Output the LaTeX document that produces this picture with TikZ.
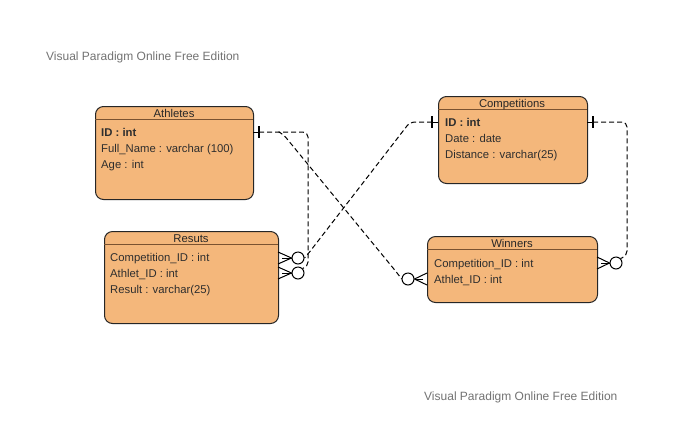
\documentclass[tikz,border=0pt]{standalone}
\usepackage{fontspec}
\setmainfont{Liberation Sans}
\begin{document}
\begin{tikzpicture}[x=1pt,y=-1pt,
  entity/.style={draw=black!85,fill=boxfill,rounded corners=8pt,line width=1pt,anchor=north west,inner sep=0pt},
  hdr/.style={font=\fontsize{11.3}{13}\selectfont,text=black!85,anchor=base,inner sep=0pt},
  row/.style={font=\fontsize{11.3}{13}\selectfont,text=black!82,anchor=base west,inner sep=0pt},
  sep/.style={draw=sepcol,line width=1pt},
  rel/.style={draw=black,line width=1pt,dash pattern=on 5pt off 3pt,rounded corners=5pt},
  bar/.style={draw=black,line width=1.4pt},
  foot/.style={draw=black,line width=1pt},
  zero/.style={circle,draw=black,line width=1pt,fill=white,minimum size=12pt,inner sep=0pt},
  wm/.style={font=\fontsize{12}{14}\selectfont,text=black!55,anchor=base west,inner sep=0pt}]
\definecolor{boxfill}{HTML}{F4B77B}
\definecolor{sepcol}{HTML}{7A5230}
\useasboundingbox (0,0) rectangle (692,424);
\fill[white] (0,0) rectangle (692,424);

\node[wm] (wm1) at (46,60.5) {Visual Paradigm Online Free Edition};
\node[wm] (wm2) at (424,400.5) {Visual Paradigm Online Free Edition};

% Athletes
\node[entity,minimum width=158pt,minimum height=93pt] (ath) at (95,106) {};
\draw[sep] (95,119) -- (253,119);
\node[hdr] (athh) at (174,117.5) {Athletes};
\node[row] (ath1) at (101,136.5) {\bfseries ID : int};
\node[row] (ath2) at (101,152.5) {Full\_Name : varchar (100)};
\node[row] (ath3) at (101,168.5) {Age : int};

% Resuts
\node[entity,minimum width=174pt,minimum height=92pt] (res) at (104,231) {};
\draw[sep] (104,244) -- (278,244);
\node[hdr] (resh) at (191,242.5) {Resuts};
\node[row] (res1) at (110,261.5) {Competition\_ID : int};
\node[row] (res2) at (110,277.5) {Athlet\_ID : int};
\node[row] (res3) at (110,293.5) {Result : varchar(25)};

% Competitions
\node[entity,minimum width=149pt,minimum height=87pt] (com) at (438,96) {};
\draw[sep] (438,109) -- (587,109);
\node[hdr] (comh) at (512,107.5) {Competitions};
\node[row] (com1) at (445,126.5) {\bfseries ID : int};
\node[row] (com2) at (445,142.5) {Date : date};
\node[row] (com3) at (445,158.5) {Distance : varchar(25)};

% Winners
\node[entity,minimum width=170pt,minimum height=66pt] (win) at (427,236) {};
\draw[sep] (427,249) -- (597,249);
\node[hdr] (winh) at (512,247.5) {Winners};
\node[row] (win1) at (434,267.5) {Competition\_ID : int};
\node[row] (win2) at (434,283.5) {Athlet\_ID : int};

% end coordinates
\coordinate (aE) at (253,132);
\coordinate (cW) at (438,122);
\coordinate (cE) at (587,122);

% zero circles
\node[zero] (rc1) at (298,258) {};
\node[zero] (rc2) at (298,273) {};
\node[zero] (wc1) at (408,279) {};
\node[zero] (wc2) at (616,263) {};

% relationships (dashed)
\draw[rel] (259,132) -- (308,132) -- (308,267) -- (rc2.north east);
\draw[rel] (279,132) -- (283,134) -- (398,274) -- (wc1.west);
\draw[rel] (432,122) -- (410,122) -- (308,254) -- (rc1.east);
\draw[rel] (593,122) -- (627,122) -- (627,256) -- (wc2.north east);

% one bars
\draw[foot] (aE) -- (259,132);
\draw[bar] (259,126) -- (259,138);
\draw[foot] (cW) -- (432,122);
\draw[bar] (432,116) -- (432,128);
\draw[foot] (cE) -- (593,122);
\draw[bar] (593,116) -- (593,128);

% crow's feet
\draw[foot] (278,252) -- (rc1.west) -- (278,264);
\draw[foot] (282,258) -- (rc1.west);
\draw[foot] (278,267) -- (rc2.west) -- (278,279);
\draw[foot] (282,273) -- (rc2.west);
\draw[foot] (427,273) -- (wc1.east) -- (427,285);
\draw[foot] (423,279) -- (wc1.east);
\draw[foot] (597,257) -- (wc2.west) -- (597,269);
\draw[foot] (601,263) -- (wc2.west);
\end{tikzpicture}
\end{document}
